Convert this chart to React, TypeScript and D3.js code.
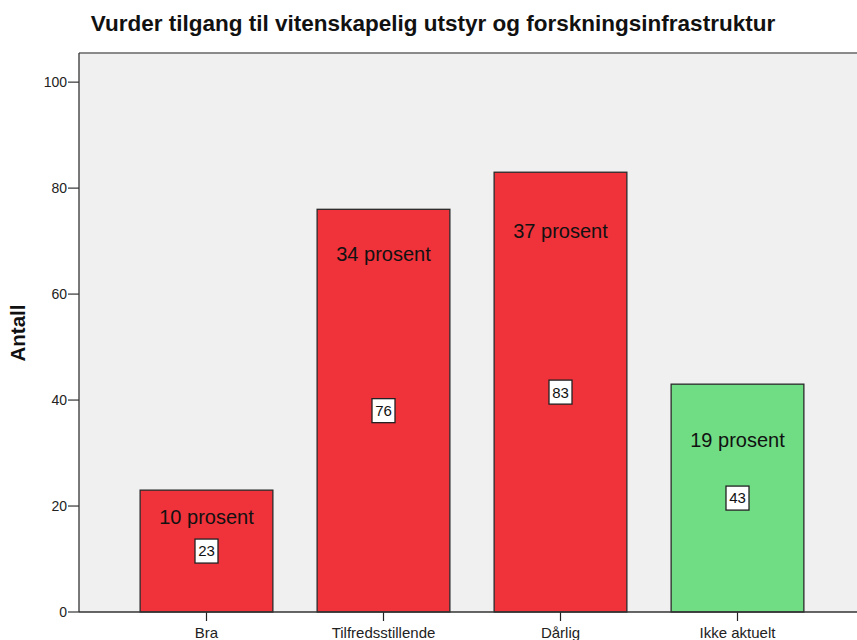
import React, { useRef, useEffect } from 'react';
import * as d3 from 'd3';

const categories = ['Bra', 'Tilfredsstillende', 'Dårlig', 'Ikke aktuelt'];
const counts = [23, 76, 83, 43];
const percentLabels = ['10 prosent', '34 prosent', '37 prosent', '19 prosent'];
// where the percent annotation sits, in Antall units
const percentAt = [18, 67.5, 72, 32.5];
const barColors = ['#F0323A', '#F0323A', '#F0323A', '#70DC84'];
const yTicks = [0, 20, 40, 60, 80, 100];

const W = 857;
const H = 640;

const App = () => {
  const ref = useRef<SVGSVGElement>(null);

  useEffect(() => {
    const svg = d3.select(ref.current);
    svg.selectAll('*').remove();

    const left = 79, top = 53, bottom = 612, right = W;
    const font = 'Arial, "Liberation Sans", sans-serif';

    const x = d3.scaleBand().domain(categories).range([118, 826])
      .paddingInner(0.25).paddingOuter(0.125);
    const y = d3.scaleLinear().domain([0, 105.5]).range([bottom, top]);

    svg.append('rect')
      .attr('width', W).attr('height', H).attr('fill', '#fff');

    // plot background
    svg.append('rect')
      .attr('x', left).attr('y', top)
      .attr('width', right - left).attr('height', bottom - top)
      .attr('fill', '#F0F0F0');

    svg.append('line')
      .attr('x1', left).attr('x2', right).attr('y1', top).attr('y2', top)
      .attr('stroke', '#8a8a8a').attr('stroke-width', 2);

    // title
    svg.append('text')
      .attr('x', 433).attr('y', 31)
      .attr('text-anchor', 'middle')
      .attr('font-family', font).attr('font-weight', 'bold')
      .attr('font-size', 22.5).attr('fill', '#111')
      .text('Vurder tilgang til vitenskapelig utstyr og forskningsinfrastruktur');

    // y axis label
    svg.append('text')
      .attr('transform', `translate(25, 333) rotate(-90)`)
      .attr('text-anchor', 'middle')
      .attr('font-family', font).attr('font-weight', 'bold')
      .attr('font-size', 20.5).attr('fill', '#111')
      .text('Antall');

    // bars
    categories.forEach((c, i) => {
      const bx = x(c)!;
      const bw = x.bandwidth();
      const cx = bx + bw / 2;
      svg.append('rect')
        .attr('x', bx).attr('y', y(counts[i]))
        .attr('width', bw).attr('height', y(0) - y(counts[i]))
        .attr('fill', barColors[i])
        .attr('stroke', '#2a2a2a').attr('stroke-width', 1.3);

      svg.append('text')
        .attr('x', cx).attr('y', y(percentAt[i]))
        .attr('dy', '0.35em')
        .attr('text-anchor', 'middle')
        .attr('font-family', font).attr('font-size', 20)
        .attr('fill', '#111')
        .text(percentLabels[i]);

      const by = y(counts[i] / 2);
      svg.append('rect')
        .attr('x', cx - 11.5).attr('y', by - 12)
        .attr('width', 23).attr('height', 24)
        .attr('fill', '#fff')
        .attr('stroke', '#222').attr('stroke-width', 1.3);
      svg.append('text')
        .attr('x', cx).attr('y', by)
        .attr('dy', '0.36em')
        .attr('text-anchor', 'middle')
        .attr('font-family', font).attr('font-size', 15)
        .attr('fill', '#111')
        .text(counts[i]);

      // x tick
      svg.append('line')
        .attr('x1', cx).attr('x2', cx).attr('y1', bottom).attr('y2', bottom + 9)
        .attr('stroke', '#222').attr('stroke-width', 1.2);
      svg.append('text')
        .attr('x', cx).attr('y', bottom + 26)
        .attr('text-anchor', 'middle')
        .attr('font-family', font).attr('font-size', 15)
        .attr('fill', '#222')
        .text(c);
    });

    // y axis
    svg.append('line')
      .attr('x1', left).attr('x2', left).attr('y1', top).attr('y2', bottom)
      .attr('stroke', '#333').attr('stroke-width', 1.3);
    yTicks.forEach(t => {
      svg.append('line')
        .attr('x1', left - 11).attr('x2', left).attr('y1', y(t)).attr('y2', y(t))
        .attr('stroke', '#333').attr('stroke-width', 1.2);
      svg.append('text')
        .attr('x', left - 12).attr('y', y(t))
        .attr('dy', '0.35em')
        .attr('text-anchor', 'end')
        .attr('font-family', font).attr('font-size', 14)
        .attr('fill', '#222')
        .text(t);
    });

    // x axis line
    svg.append('line')
      .attr('x1', left).attr('x2', right).attr('y1', bottom).attr('y2', bottom)
      .attr('stroke', '#333').attr('stroke-width', 1.3);
  }, []);

  return (
    <svg ref={ref} width={W} height={H}
      style={{ position: 'absolute', left: 0, top: 0, display: 'block' }} />
  );
};

export default App;
